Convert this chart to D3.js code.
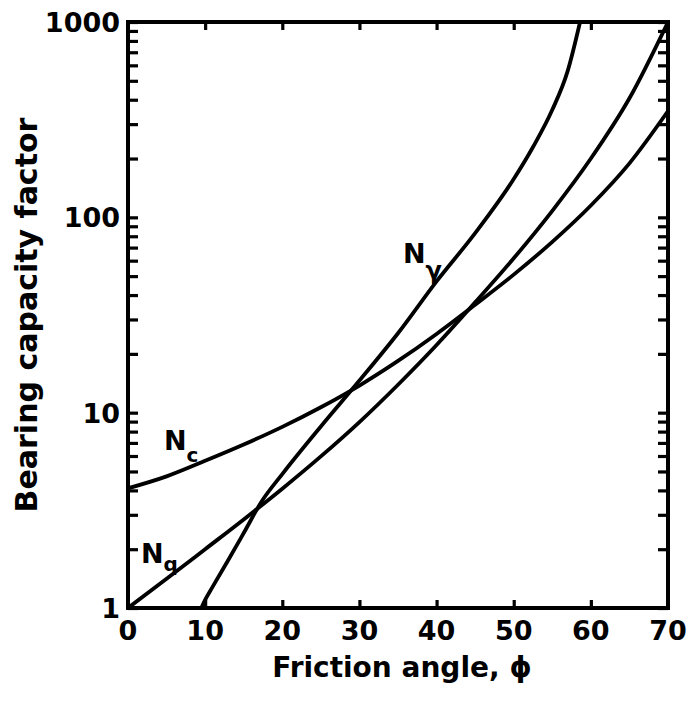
<!DOCTYPE html>
<html>
<head>
<meta charset="utf-8">
<script src="https://cdn.jsdelivr.net/npm/d3@7"></script>
<style>
  html, body { margin: 0; padding: 0; background: #fff; }
  svg { display: block; }
  text { font-family: "DejaVu Sans", sans-serif; font-weight: bold; fill: #000; }
</style>
</head>
<body>
<svg id="chart" width="689" height="703"></svg>
<script>
// ---- data ----
const phiNq = [0, 5, 10, 15, 20, 25, 30, 35, 40, 45, 50, 55, 60, 65, 70];
const Nq    = [1, 1.41, 2.0, 2.84, 4.08, 5.97, 8.95, 13.9, 22.2, 36.7, 61.7, 108, 200, 407, 1000];

const phiNc = [0, 5, 10, 15, 20, 25, 30, 35, 40, 45, 50, 55, 60, 65, 70];
const Nc    = [4.1, 4.72, 5.67, 6.87, 8.46, 10.66, 13.77, 18.4, 25.3, 35.7, 50.9, 74.9, 115, 189, 350];

const phiNg = [9.5, 10, 11, 13, 15, 17.3, 20, 25, 30, 35, 40, 45, 50, 52.5, 55, 57, 58.6];
const Ng    = [1, 1.1, 1.29, 1.76, 2.42, 3.5, 4.85, 8.5, 14.6, 25.5, 47, 83, 157, 229, 355, 562, 1000];

const xTicks = [0, 10, 20, 30, 40, 50, 60, 70];
const yTicks = [1, 10, 100, 1000];
const yTickLabels = ["1", "10", "100", "1000"];

// ---- layout ----
const svg = d3.select("#chart");
const mLeft = 128, mRight = 668, mTop = 22, mBottom = 608;

const x = d3.scaleLinear().domain([0, 70]).range([mLeft, mRight]);
const y = d3.scaleLog().domain([1, 1000]).range([mBottom, mTop]);

svg.append("defs").append("clipPath").attr("id", "plotclip")
  .append("rect").attr("x", mLeft).attr("y", mTop - 1)
  .attr("width", mRight - mLeft).attr("height", mBottom - mTop + 1);

const minorY = [];
[1, 10, 100].forEach(d => { for (let k = 2; k <= 9; k++) minorY.push(d * k); });

const leftAxis = d3.axisRight(y).tickValues(yTicks.concat(minorY)).tickSize(10).tickFormat("");
const gl = svg.append("g").attr("transform", `translate(${mLeft},0)`).call(leftAxis);
const rightAxis = d3.axisLeft(y).tickValues(yTicks.concat(minorY)).tickSize(10).tickFormat("");
const gr = svg.append("g").attr("transform", `translate(${mRight},0)`).call(rightAxis);
const bottomAxis = d3.axisTop(x).tickValues(xTicks.slice(1, -1)).tickSize(8).tickFormat("");
const gb = svg.append("g").attr("transform", `translate(0,${mBottom})`).call(bottomAxis);
const topAxis = d3.axisBottom(x).tickValues(xTicks.slice(1, -1)).tickSize(8).tickFormat("");
const gt = svg.append("g").attr("transform", `translate(0,${mTop})`).call(topAxis);

[gl, gr, gb, gt].forEach(g => {
  g.select(".domain").remove();
  g.selectAll(".tick line").attr("stroke", "#000").attr("stroke-width", 3.2);
});

svg.append("rect").attr("x", mLeft).attr("y", mTop)
  .attr("width", mRight - mLeft).attr("height", mBottom - mTop)
  .attr("fill", "none").attr("stroke", "#000").attr("stroke-width", 4);

// tick labels
svg.append("g").selectAll("text").data(xTicks).join("text")
  .attr("x", d => x(d)).attr("y", mBottom + 32)
  .attr("text-anchor", "middle").attr("font-size", 27)
  .text(d => d);

svg.append("g").selectAll("text").data(yTicks).join("text")
  .attr("x", mLeft - 8).attr("y", d => y(d) + 10)
  .attr("text-anchor", "end").attr("font-size", 27)
  .text((d, i) => yTickLabels[i]);

// axis titles
svg.append("text")
  .attr("x", 402).attr("y", 677)
  .attr("text-anchor", "middle").attr("font-size", 28)
  .text("Friction angle, \u03D5");

svg.append("text")
  .attr("transform", `translate(37,${(mTop + mBottom) / 2}) rotate(-90)`)
  .attr("text-anchor", "middle").attr("font-size", 30)
  .text("Bearing capacity factor");

// curves
const line = d3.line().x(d => x(d[0])).y(d => y(d[1])).curve(d3.curveMonotoneX);
const curves = [
  d3.zip(phiNq, Nq),
  d3.zip(phiNc, Nc),
  d3.zip(phiNg, Ng)
];
svg.append("g").attr("clip-path", "url(#plotclip)")
  .selectAll("path").data(curves).join("path")
  .attr("d", line)
  .attr("fill", "none").attr("stroke", "#000").attr("stroke-width", 3.8)
  .attr("stroke-linecap", "round");

// curve labels
function curveLabel(px, py, main, sub, dy, subSize) {
  const t = svg.append("text").attr("x", px).attr("y", py).attr("font-size", 27);
  t.append("tspan").text(main);
  t.append("tspan").attr("dy", dy).attr("font-size", subSize).text(sub);
}
curveLabel(164, 450, "N", "c", 12, 20);
curveLabel(141, 563, "N", "q", 8, 20);
curveLabel(403, 263, "N", "\u03B3", 16, 24);
</script>
</body>
</html>
